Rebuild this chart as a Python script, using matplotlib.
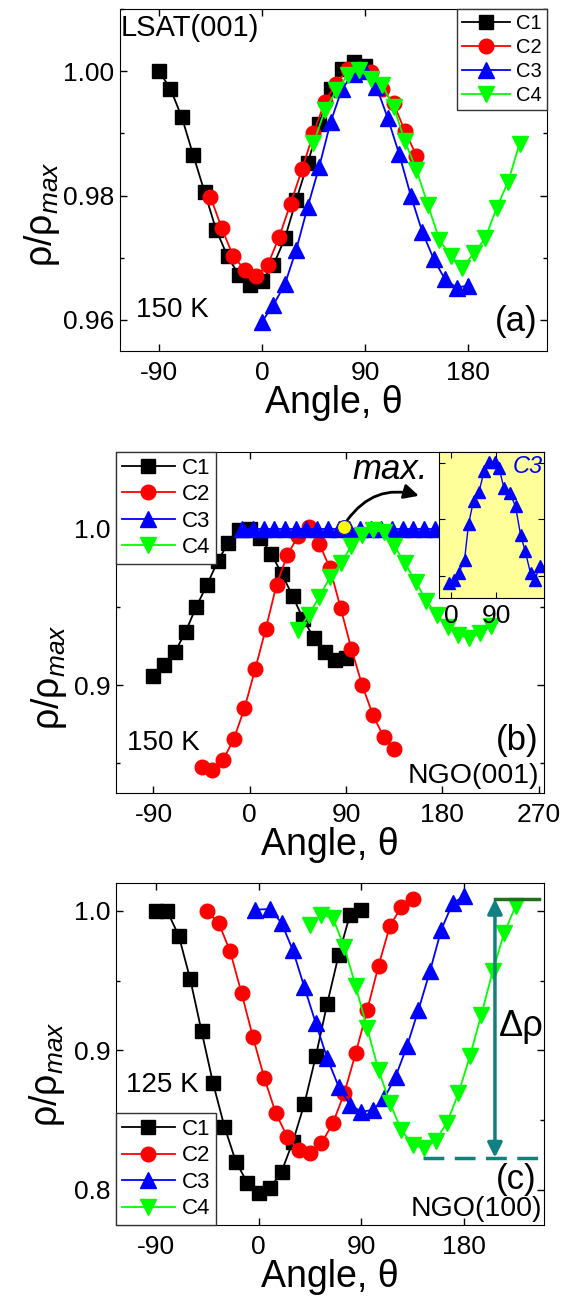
import matplotlib.pyplot as plt
from matplotlib.ticker import MultipleLocator

plt.rcParams['font.family'] = ['Liberation Sans', 'DejaVu Sans']
plt.rcParams['mathtext.fontset'] = 'custom'
plt.rcParams['mathtext.rm'] = 'Liberation Sans'
plt.rcParams['mathtext.it'] = 'Liberation Sans:italic'
plt.rcParams['axes.unicode_minus'] = False

# panel (a) LSAT(001), 150 K
a_c1_x = [-90, -80, -70, -60, -50, -40, -30, -20, -10, 0, 10, 20, 30, 40, 50, 60, 70, 80, 90]
a_c1_y = [1.000, 0.9972, 0.9926, 0.9865, 0.9805, 0.9745, 0.9702, 0.9672, 0.9656, 0.9663,
          0.9688, 0.9731, 0.9793, 0.9852, 0.9915, 0.9971, 1.0004, 1.0015, 1.0008]
a_c2_x = [-45, -35, -25, -15, -5, 5, 15, 25, 35, 45, 55, 65, 75, 85, 95, 105, 115, 125, 135]
a_c2_y = [0.9798, 0.9747, 0.9702, 0.9681, 0.9671, 0.9688, 0.9733, 0.9787, 0.9842, 0.9900,
          0.9951, 0.9980, 1.0003, 1.0004, 0.9999, 0.9972, 0.9948, 0.9903, 0.9864]
a_c3_x = [0, 10, 20, 30, 40, 50, 60, 70, 80, 90, 100, 110, 120, 130, 140, 150, 160, 170, 180]
a_c3_y = [0.9597, 0.9624, 0.9657, 0.9713, 0.9782, 0.9846, 0.9918, 0.9972, 0.9995, 1.0001,
          0.9975, 0.9924, 0.9866, 0.9800, 0.9742, 0.9698, 0.9665, 0.9652, 0.9655]
a_c4_x = [45, 55, 65, 75, 85, 95, 105, 115, 125, 135, 145, 155, 165, 175, 185, 195, 205, 215, 225]
a_c4_y = [0.9884, 0.9937, 0.9969, 0.9994, 1.0002, 0.9988, 0.9978, 0.9943, 0.9887, 0.9841,
          0.9785, 0.9729, 0.9702, 0.9683, 0.9707, 0.9731, 0.9780, 0.9822, 0.9883]

# panel (b) NGO(001), 150 K
b_c1_x = [-90, -80, -70, -60, -50, -40, -30, -20, -10, 0, 10, 20, 30, 40, 50, 60, 70, 80, 90]
b_c1_y = [0.906, 0.913, 0.921, 0.934, 0.950, 0.964, 0.979, 0.991, 0.999, 1.000,
          0.994, 0.984, 0.971, 0.957, 0.942, 0.930, 0.921, 0.916, 0.917]
b_c2_x = [-45, -35, -25, -15, -5, 5, 15, 25, 35, 45, 55, 65, 75, 85, 95, 105, 115, 125, 135]
b_c2_y = [0.8474, 0.8457, 0.852, 0.8653, 0.885, 0.910, 0.936, 0.964, 0.983, 0.995,
          1.001, 0.9904, 0.9745, 0.949, 0.923, 0.900, 0.881, 0.867, 0.859]
b_c3_x = [-7, 3, 13, 23, 33, 43, 53, 63, 73, 83, 93, 103, 113, 123, 133, 143, 153, 163, 173,
          183, 193, 203, 213, 223, 233, 243, 253, 263, 273]
b_c3_y = [1.0, 1.0, 1.0, 1.0, 1.0, 1.0, 1.0, 1.0, 1.0, 1.0, 1.0, 1.0, 1.0, 1.0, 1.0,
          1.0, 1.0, 1.0, 1.0, 1.0, 1.0, 1.0, 1.0, 1.0, 1.0, 1.0, 1.0, 1.0, 1.0]
b_c4_x = [45, 55, 65, 75, 85, 95, 105, 115, 125, 135, 145, 155, 165, 175, 185, 195, 205, 215, 225]
b_c4_y = [0.9351, 0.9447, 0.9564, 0.969, 0.9777, 0.989, 0.9957, 0.999, 0.998, 0.989,
          0.978, 0.966, 0.954, 0.9447, 0.937, 0.932, 0.930, 0.933, 0.938]
b_max_x = 88
b_max_y = 1.001
# inset: C3 zoomed in
ins_x = [-5, 5, 15, 27, 35, 45, 56, 66, 75, 87, 96, 106, 118, 129, 139, 148, 159, 168, 177]
ins_y = [0.99788, 0.99792, 0.99805, 0.99828, 0.99892, 0.99933, 0.99949, 0.99985, 1.00001, 1.00002,
         0.99991, 0.99955, 0.99946, 0.99923, 0.99873, 0.99845, 0.99805, 0.99793, 0.99818]

# panel (c) NGO(100), 125 K
c_c1_x = [-90, -80, -70, -60, -50, -40, -30, -20, -10, 0, 10, 20, 30, 40, 50, 60, 70, 80, 90]
c_c1_y = [0.9995, 0.9995, 0.982, 0.951, 0.9135, 0.8765, 0.8454, 0.8203, 0.8053, 0.7981,
          0.8012, 0.8131, 0.8347, 0.8616, 0.8956, 0.9333, 0.968, 0.9971, 1.0007]
c_c2_x = [-45, -35, -25, -15, -5, 5, 15, 25, 35, 45, 55, 65, 75, 85, 95, 105, 115, 125, 135]
c_c2_y = [0.9995, 0.9912, 0.9708, 0.941, 0.9094, 0.88, 0.855, 0.8382, 0.8287, 0.8263,
          0.8335, 0.8478, 0.8693, 0.898, 0.9286, 0.9606, 0.9892, 1.0026, 1.0084]
c_c3_x = [-3, 10, 20, 30, 40, 50, 60, 70, 80, 90, 100, 110, 120, 130, 140, 150, 160, 170, 180]
c_c3_y = [1.0007, 1.0012, 0.9912, 0.9716, 0.9453, 0.9195, 0.8944, 0.8741, 0.8609, 0.8561,
          0.8573, 0.8657, 0.8812, 0.9032, 0.929, 0.9565, 0.9864, 1.0055, 1.0103]
c_c4_x = [45, 55, 65, 75, 85, 95, 105, 115, 125, 135, 145, 155, 165, 175, 185, 195, 205, 215, 225]
c_c4_y = [0.99, 0.9971, 0.9947, 0.974, 0.9458, 0.9159, 0.886, 0.8621, 0.843, 0.8323,
          0.8299, 0.8354, 0.8483, 0.8693, 0.8956, 0.9254, 0.9565, 0.984, 1.0031]
c_drho_x = 207
c_drho_top = 1.0084
c_drho_bot = 0.8232

labels = ['C1', 'C2', 'C3', 'C4']
colors = ['black', '#ff0000', '#0000ff', '#00ff00']
markers = ['s', 'o', '^', 'v']
msizes = [9.5, 10.5, 11, 11]


def draw_curves(ax, xs, ys):
    for x, y, lab, col, mk, ms in zip(xs, ys, labels, colors, markers, msizes):
        ax.plot(x, y, color=col, marker=mk, ms=ms, mec=col, lw=1.3, label=lab)


def style_axes(ax, xlim, ylim, ymaj, ymin):
    ax.set_xlim(*xlim)
    ax.set_ylim(*ylim)
    ax.xaxis.set_major_locator(MultipleLocator(90))
    ax.yaxis.set_major_locator(MultipleLocator(ymaj))
    ax.yaxis.set_minor_locator(MultipleLocator(ymin))
    ax.tick_params(which='both', direction='in', top=True, right=True, labelsize=19)
    ax.tick_params(which='major', length=5, width=1)
    ax.tick_params(which='minor', length=3, width=1)
    ax.tick_params(axis='x', which='minor', bottom=False, top=False)
    ax.tick_params(axis='x', pad=7)
    ax.tick_params(axis='y', pad=4)
    ax.set_xlabel('Angle, θ', fontsize=27, labelpad=0)
    ax.set_ylabel(r'$\mathrm{\rho}/\mathrm{\rho}_{\mathit{max}}$', fontsize=27)


def add_legend(ax, loc, anchor, fs):
    leg = ax.legend(loc=loc, bbox_to_anchor=anchor, fontsize=fs, fancybox=False,
                    edgecolor='#333333', framealpha=1, borderaxespad=0, handlelength=2.4,
                    handletextpad=0.3, labelspacing=0.25, borderpad=0.25, numpoints=1)
    leg.get_frame().set_linewidth(1)


fig = plt.figure(figsize=(5.67, 12.98), dpi=100)

# (a)
ax1 = fig.add_axes([0.2116, 0.7296, 0.7531, 0.2635])
draw_curves(ax1, [a_c1_x, a_c2_x, a_c3_x, a_c4_x], [a_c1_y, a_c2_y, a_c3_y, a_c4_y])
style_axes(ax1, (-124, 249), (0.955, 1.01), 0.02, 0.01)
ax1.yaxis.set_major_formatter('{x:.2f}')
ax1.yaxis.set_label_coords(-0.135, 0.40)
add_legend(ax1, 'upper right', (1.0, 1.0), 14.5)
ax1.text(-123, 1.0069, 'LSAT(001)', fontsize=21, ha='left', va='center')
ax1.text(-78, 0.9616, '150 K', fontsize=20, ha='center', va='center')
ax1.text(241, 0.9597, '(a)', fontsize=25, ha='right', va='center')

# (b)
ax2 = fig.add_axes([0.2046, 0.3891, 0.7549, 0.2627])
draw_curves(ax2, [b_c1_x, b_c2_x, b_c3_x, b_c4_x], [b_c1_y, b_c2_y, b_c3_y, b_c4_y])
ax2.plot([b_max_x], [b_max_y], 'o', color='#ffff00', mec='#2020a0', mew=0.8, ms=10, zorder=5)
style_axes(ax2, (-125, 275), (0.831, 1.049), 0.1, 0.05)
ax2.yaxis.set_major_formatter('{x:.1f}')
ax2.yaxis.set_label_coords(-0.11, 0.34)
add_legend(ax2, 'upper left', (0.0, 1.0), 16)
ax2.annotate('', xy=(158, 1.021), xytext=(91, 1.0053),
             arrowprops=dict(arrowstyle='-|>', color='black', lw=2, mutation_scale=22,
                             connectionstyle='arc3,rad=-0.35', shrinkA=0, shrinkB=0))
ax2.text(131, 1.0375, 'max.', fontsize=25, style='italic', ha='center', va='center')
ax2.text(-81, 0.8628, '150 K', fontsize=20, ha='center', va='center')
ax2.text(270, 0.8645, '(b)', fontsize=25, ha='right', va='center')
ax2.text(270, 0.842, 'NGO(001)', fontsize=20.5, ha='right', va='center')

ins = fig.add_axes([0.7743, 0.5393, 0.1852, 0.1125], facecolor='#ffff99')
ins.plot(ins_x, ins_y, color='#0000ff', marker='^', ms=8, lw=1)
ins.set_xlim(-24, 186)
ins.set_ylim(0.99761, 1.000195)
ins.set_xticks([0, 90])
ins.set_yticks([0.998, 0.999, 1.000])
ins.set_yticklabels([])
ins.tick_params(direction='in', top=True, right=True, labelsize=19, length=4, pad=4)
ins.text(0.99, 0.9, 'C3', transform=ins.transAxes, fontsize=17, style='italic',
         color='#0000ff', ha='right', va='center')

# (c)
ax3 = fig.add_axes([0.2046, 0.0562, 0.7549, 0.2635])
draw_curves(ax3, [c_c1_x, c_c2_x, c_c3_x, c_c4_x], [c_c1_y, c_c2_y, c_c3_y, c_c4_y])
style_axes(ax3, (-125, 250), (0.7749, 1.0198), 0.1, 0.05)
ax3.yaxis.set_major_formatter('{x:.1f}')
ax3.yaxis.set_label_coords(-0.115, 0.44)
add_legend(ax3, 'lower left', (0.0, 0.0), 16)
ax3.annotate('', xy=(c_drho_x, c_drho_top), xytext=(c_drho_x, c_drho_bot),
             arrowprops=dict(arrowstyle='<|-|>', color='#108080', lw=2.5, mutation_scale=22,
                             shrinkA=0, shrinkB=0))
ax3.plot([c_drho_x, 246], [c_drho_top, c_drho_top], color='#1f6f1f', lw=2.5)
ax3.plot([144, 245], [c_drho_bot, c_drho_bot], color='#108080', lw=2.5, ls=(0, (6, 3)))
ax3.text(230, 0.917, 'Δρ', fontsize=26, ha='center', va='center')
ax3.text(-84, 0.8753, '125 K', fontsize=20, ha='center', va='center')
ax3.text(243, 0.8072, '(c)', fontsize=25, ha='right', va='center')
ax3.text(248, 0.7861, 'NGO(100)', fontsize=20.5, ha='right', va='center')

plt.savefig('out.png', dpi=100)
